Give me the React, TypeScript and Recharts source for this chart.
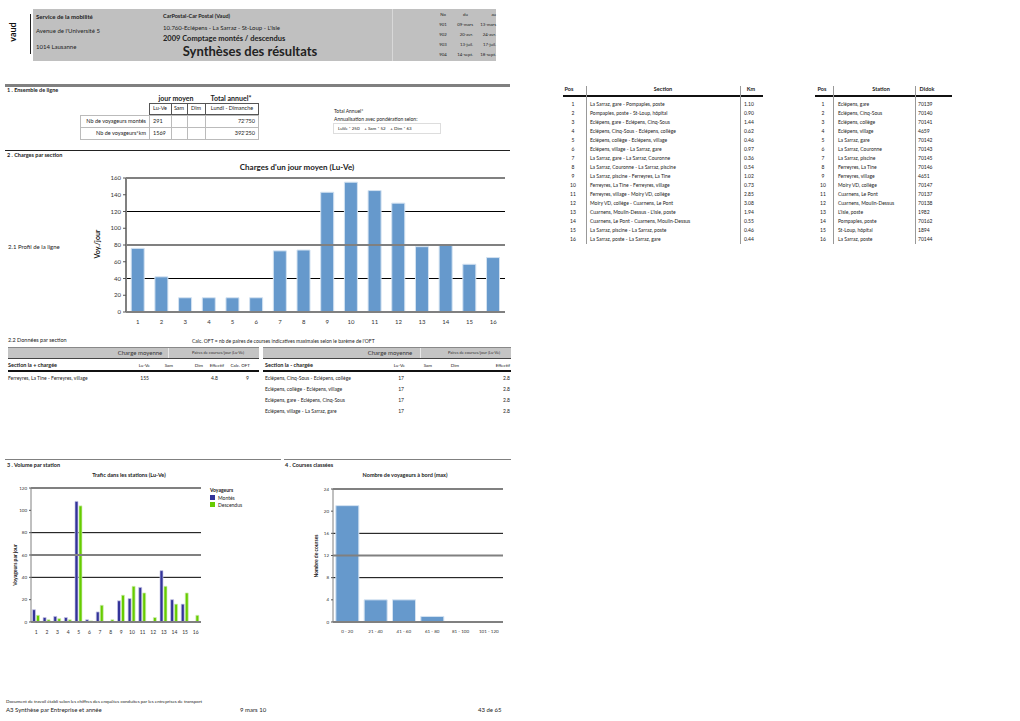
import React from 'react';
import { BarChart, Bar, XAxis, YAxis, CartesianGrid, ReferenceLine } from 'recharts';

const FONT = 'Lato, "Liberation Sans", sans-serif';

// 2. Charges par section
const sectionIds = ['1', '2', '3', '4', '5', '6', '7', '8', '9', '10', '11', '12', '13', '14', '15', '16'];
const chargeLuVe = [76, 42, 17, 17, 17, 17, 73, 74, 143, 155, 145, 130, 78, 80, 57, 65];
const chargeTicks = [0, 20, 40, 60, 80, 100, 120, 140, 160];

// 3. Volume par station
const stationIds = ['1', '2', '3', '4', '5', '6', '7', '8', '9', '10', '11', '12', '13', '14', '15', '16'];
const montes = [11, 4, 5, 4, 108, 2, 9, 0, 19, 21, 31, 0, 46, 20, 16, 0];
const descendus = [6, 2, 3, 2, 104, 1, 15, 2, 24, 32, 26, 4, 32, 16, 26, 6];
const trafficTicks = [0, 20, 40, 60, 80, 100, 120];

// 4. Courses classées
const classes = ['0 - 20', '21 - 40', '41 - 60', '61 - 80', '81 - 100', '101 - 120'];
const courses = [21, 4, 4, 1, 0, 0];
const coursesTicks = [0, 4, 8, 12, 16, 20, 24];

const sectionNames = [
  'La Sarraz, gare - Pompaples, poste',
  'Pompaples, poste - St-Loup, hôpital',
  'Eclépens, gare - Eclépens, Cinq-Sous',
  'Eclépens, Cinq-Sous - Eclépens, collège',
  'Eclépens, collège - Eclépens, village',
  'Eclépens, village - La Sarraz, gare',
  'La Sarraz, gare - La Sarraz, Couronne',
  'La Sarraz, Couronne - La Sarraz, piscine',
  'La Sarraz, piscine - Ferreyres, La Tine',
  'Ferreyres, La Tine - Ferreyres, village',
  'Ferreyres, village - Moiry VD, collège',
  'Moiry VD, collège - Cuarnens, Le Pont',
  'Cuarnens, Moulin-Dessus - L\'Isle, poste',
  'Cuarnens, Le Pont - Cuarnens, Moulin-Dessus',
  'La Sarraz, piscine - La Sarraz, poste',
  'La Sarraz, poste - La Sarraz, gare',
];
const sectionKm = ['1.10', '0.90', '1.44', '0.62', '0.46', '0.97', '0.36', '0.54', '1.02', '0.73', '2.85', '3.08', '1.94', '0.55', '0.46', '0.44'];

const stationNames = [
  'Eclépens, gare', 'Eclépens, Cinq-Sous', 'Eclépens, collège', 'Eclépens, village',
  'La Sarraz, gare', 'La Sarraz, Couronne', 'La Sarraz, piscine', 'Ferreyres, La Tine',
  'Ferreyres, village', 'Moiry VD, collège', 'Cuarnens, Le Pont', 'Cuarnens, Moulin-Dessus',
  'L\'Isle, poste', 'Pompaples, poste', 'St-Loup, hôpital', 'La Sarraz, poste',
];
const stationDidok = ['70139', '70140', '70141', '4659', '70142', '70143', '70145', '70146', '4651', '70147', '70137', '70138', '1982', '70162', '1894', '70144'];

const periodes = [
  ['No', 'du', 'au'],
  ['901', '09-mars', '13-mars'],
  ['902', '20-avr.', '24-avr.'],
  ['903', '13-juil.', '17-juil.'],
  ['904', '14-sept.', '18-sept.'],
];

const moinsCharges = [
  'Eclépens, Cinq-Sous - Eclépens, collège',
  'Eclépens, collège - Eclépens, village',
  'Eclépens, gare - Eclépens, Cinq-Sous',
  'Eclépens, village - La Sarraz, gare',
];
const moinsChargesLuVe = [17, 17, 17, 17];
const moinsChargesEff = ['2.8', '2.8', '2.8', '2.8'];

const chargeData = sectionIds.map((id, i) => ({ id, v: chargeLuVe[i] }));
const trafficData = stationIds.map((id, i) => ({ id, m: montes[i], d: descendus[i] }));
const coursesData = classes.map((c, i) => ({ c, v: courses[i] }));

type TProps = { x: number; y: number; s?: number; b?: boolean; a?: 'l' | 'c' | 'r'; c?: string; children: React.ReactNode };

function T({ x, y, s = 6, b = false, a = 'l', c = '#222', children }: TProps) {
  const tx = a === 'c' ? '-50%' : a === 'r' ? '-100%' : '0';
  return (
    <div style={{
      position: 'absolute', left: x, top: y, transform: `translate(${tx},-50%)`,
      fontSize: s, fontWeight: b ? 700 : 400, color: c, whiteSpace: 'nowrap', lineHeight: 1,
    }}>{children}</div>
  );
}

function VT({ x, y, s = 6, children }: { x: number; y: number; s?: number; children: React.ReactNode }) {
  return (
    <div style={{
      position: 'absolute', left: x, top: y, transform: 'translate(-50%,-50%) rotate(-90deg)',
      fontSize: s, fontWeight: 700, color: '#111', whiteSpace: 'nowrap', lineHeight: 1,
    }}>{children}</div>
  );
}

function Box({ x, y, w, h, bg, border }: { x: number; y: number; w: number; h: number; bg?: string; border?: string }) {
  return <div style={{ position: 'absolute', left: x, top: y, width: w, height: h, background: bg, border, boxSizing: 'border-box' }} />;
}

const tick = (s: number) => ({ fontSize: s, fill: '#333', fontFamily: FONT });

export default function App() {
  const rowY = (i: number) => 103.5 + i * 9.03;
  return (
    <div style={{ position: 'absolute', left: 0, top: 0, width: 1020, height: 721, background: '#fff', fontFamily: FONT, overflow: 'hidden' }}>
      {/* header */}
      <VT x={12} y={32} s={9}>vaud</VT>
      <Box x={30} y={14} w={1} h={40} bg="#222" />
      <Box x={33} y={9} w={463} h={52} bg="#c0c0c0" />
      <Box x={392} y={9} w={1} h={52} bg="#d8d8d8" />
      <T x={36} y={17} s={6} b>Service de la mobilité</T>
      <T x={36} y={31} s={6}>Avenue de l'Université 5</T>
      <T x={36} y={47} s={6}>1014 Lausanne</T>
      <T x={163} y={17} s={5.5} b>CarPostal-Car Postal (Vaud)</T>
      <T x={163} y={28} s={6}>10.760-Eclépens - La Sarraz - St-Loup - L'Isle</T>
      <T x={163} y={39} s={7.5} b>2009 Comptage montés / descendus</T>
      <T x={250} y={51} s={13} b a="c">Synthèses des résultats</T>
      {periodes.map((r, i) => (
        <React.Fragment key={i}>
          <T x={443} y={15 + i * 10} s={4.3} a="c">{r[0]}</T>
          <T x={473} y={15 + i * 10} s={4.3} a={i === 0 ? 'c' : 'r'}>{i === 0 ? <span style={{ marginLeft: -10 }}>{r[1]}</span> : r[1]}</T>
          <T x={496} y={15 + i * 10} s={4.3} a="r">{r[2]}</T>
        </React.Fragment>
      ))}

      {/* 1. Ensemble de ligne */}
      <Box x={5} y={84} w={505} h={3} bg="#808080" />
      <T x={7} y={91} s={5.5} b>1 . Ensemble de ligne</T>
      <T x={176} y={98} s={7} b a="c">jour moyen</T>
      <T x={231} y={98} s={7} b a="c">Total annuel*</T>
      <Box x={149} y={103} w={23} h={12} border="1px solid #555" />
      <Box x={171} y={103} w={17} h={12} border="1px solid #555" />
      <Box x={187} y={103} w={19} h={12} border="1px solid #555" />
      <Box x={205} y={103} w={54} h={12} border="1px solid #555" />
      <T x={160} y={109} s={5.5} a="c">Lu-Ve</T>
      <T x={179} y={109} s={5.5} a="c">Sam</T>
      <T x={196} y={109} s={5.5} a="c">Dim</T>
      <T x={232} y={109} s={5.5} a="c">Lundi - Dimanche</T>
      {[0, 1].map((r) => (
        <React.Fragment key={r}>
          <Box x={80} y={115 + r * 12} w={70} h={13} border="1px solid #bbb" />
          <Box x={149} y={115 + r * 12} w={23} h={13} border="1px solid #bbb" />
          <Box x={171} y={115 + r * 12} w={17} h={13} border="1px solid #bbb" />
          <Box x={187} y={115 + r * 12} w={19} h={13} border="1px solid #bbb" />
          <Box x={205} y={115 + r * 12} w={54} h={13} border="1px solid #bbb" />
        </React.Fragment>
      ))}
      <T x={146} y={121.5} s={5.5} a="r">Nb de voyageurs montés</T>
      <T x={153} y={121.5} s={5.5}>291</T>
      <T x={255} y={121.5} s={5.5} a="r">72'750</T>
      <T x={146} y={133.5} s={5.5} a="r">Nb de voyageurs*km</T>
      <T x={153} y={133.5} s={5.5}>1569</T>
      <T x={255} y={133.5} s={5.5} a="r">392'250</T>
      <T x={334} y={111} s={5}>Total Annuel*</T>
      <T x={334} y={119} s={5}>Annualisation avec pondération selon:</T>
      <Box x={333} y={123} w={108} h={11} border="1px solid #ddd" />
      <T x={338} y={128.5} s={4.5}>LuVe * 250&nbsp;&nbsp;&nbsp;&nbsp;+ Sam * 52&nbsp;&nbsp;&nbsp;&nbsp;+ Dim * 63</T>

      {/* 2. Charges par section */}
      <Box x={5} y={150} w={505} h={1} bg="#222" />
      <T x={7} y={156} s={5.5} b>2 . Charges par section</T>
      <T x={8} y={247} s={6}>2.1 Profil de la ligne</T>
      <T x={297} y={167} s={8} b a="c">Charges d'un jour moyen (Lu-Ve)</T>
      <VT x={97} y={244} s={7}>Voy./jour</VT>
      <div style={{ position: 'absolute', left: 80, top: 160 }}>
        <BarChart width={430} height={175} data={chargeData} margin={{ top: 18, right: 5, left: 0, bottom: 3 }}
          barCategoryGap="22%">
          <CartesianGrid horizontal vertical={false} stroke="#000" strokeWidth={1} />
          <ReferenceLine y={80} stroke="#808080" strokeWidth={2} />
          <ReferenceLine y={160} stroke="#808080" strokeWidth={2} />
          <XAxis dataKey="id" height={20} tick={tick(6)} tickLine={false} axisLine={{ stroke: '#808080', strokeWidth: 2 }} interval={0} />
          <YAxis width={46} domain={[0, 160]} ticks={chargeTicks} tick={tick(6)} tickSize={3}
            tickLine={{ stroke: '#555' }} axisLine={{ stroke: '#808080', strokeWidth: 2 }} />
          <Bar dataKey="v" fill="#6699cc" stroke="#d3e2f1" strokeWidth={1} isAnimationActive={false} />
        </BarChart>
      </div>

      {/* tables sections / stations */}
      <T x={569} y={90} s={5.5} b a="c">Pos</T>
      <T x={663} y={90} s={5.5} b a="c">Section</T>
      <T x={751} y={90} s={5.5} b a="c">Km</T>
      <Box x={563} y={95} w={200} h={2} bg="#111" />
      <Box x={586} y={86} w={1} h={158} bg="#999" />
      <Box x={740} y={86} w={1} h={158} bg="#999" />
      {sectionNames.map((n, i) => (
        <React.Fragment key={n + i}>
          <T x={573} y={rowY(i)} s={5} a="c">{sectionIds[i]}</T>
          <T x={590} y={rowY(i)} s={5}>{n}</T>
          <T x={744} y={rowY(i)} s={5}>{sectionKm[i]}</T>
        </React.Fragment>
      ))}
      <T x={822} y={90} s={5.5} b a="c">Pos</T>
      <T x={881} y={90} s={5.5} b a="c">Station</T>
      <T x={927} y={90} s={5.5} b a="c">Didok</T>
      <Box x={815} y={95} w={137} h={2} bg="#111" />
      <Box x={833} y={86} w={1} h={158} bg="#999" />
      <Box x={915} y={86} w={1} h={158} bg="#999" />
      {stationNames.map((n, i) => (
        <React.Fragment key={n + i}>
          <T x={823} y={rowY(i)} s={5} a="c">{stationIds[i]}</T>
          <T x={838} y={rowY(i)} s={5}>{n}</T>
          <T x={918} y={rowY(i)} s={5}>{stationDidok[i]}</T>
        </React.Fragment>
      ))}

      {/* 2.2 Données par section */}
      <T x={8} y={341} s={5.5}>2.2 Données par section</T>
      <T x={192} y={341} s={5}>Calc. OFT = nb de paires de courses indicatives maximales selon le barème de l'OFT</T>
      <Box x={8} y={348} w={251} h={10} bg="#c4c4c4" />
      <Box x={8} y={347} w={251} h={1} bg="#888" />
      <Box x={168} y={348} w={1} h={10} bg="#e8e8e8" />
      <T x={140} y={353} s={6} a="c" c="#333">Charge moyenne</T>
      <T x={218} y={353} s={4} a="c" c="#333">Paires de courses/jour (Lu-Ve)</T>
      <Box x={8} y={358} w={251} h={1} bg="#444" />
      <T x={8} y={366} s={5.5} b>Section la + chargée</T>
      <T x={150} y={366} s={4.5} a="r">Lu-Ve</T>
      <T x={173} y={366} s={4.5} a="r">Sam</T>
      <T x={203} y={366} s={4.5} a="r">Dim</T>
      <T x={224} y={366} s={4.5} a="r">Effectif</T>
      <T x={250} y={366} s={4.5} a="r">Calc. OFT</T>
      <Box x={8} y={370} w={251} h={2} bg="#111" />
      <T x={8} y={378} s={5}>Ferreyres, La Tine - Ferreyres, village</T>
      <T x={149} y={378} s={5} a="r">155</T>
      <T x={218} y={378} s={5} a="r">4.8</T>
      <T x={249} y={378} s={5} a="r">9</T>

      <Box x={263} y={348} w={248} h={10} bg="#c4c4c4" />
      <Box x={263} y={347} w={248} h={1} bg="#888" />
      <Box x={420} y={348} w={1} h={10} bg="#e8e8e8" />
      <T x={390} y={353} s={6} a="c" c="#333">Charge moyenne</T>
      <T x={474} y={353} s={4} a="c" c="#333">Paires de courses/jour (Lu-Ve)</T>
      <Box x={263} y={358} w={248} h={1} bg="#444" />
      <T x={265} y={366} s={5.5} b>Section la - chargée</T>
      <T x={405} y={366} s={4.5} a="r">Lu-Ve</T>
      <T x={432} y={366} s={4.5} a="r">Sam</T>
      <T x={459} y={366} s={4.5} a="r">Dim</T>
      <T x={510} y={366} s={4.5} a="r">Effectif</T>
      <Box x={263} y={370} w={248} h={2} bg="#111" />
      {moinsCharges.map((n, i) => (
        <React.Fragment key={n}>
          <T x={265} y={378 + i * 11} s={5}>{n}</T>
          <T x={404} y={378 + i * 11} s={5} a="r">{moinsChargesLuVe[i]}</T>
          <T x={510} y={378 + i * 11} s={5} a="r">{moinsChargesEff[i]}</T>
        </React.Fragment>
      ))}

      {/* 3. Volume par station */}
      <Box x={5} y={459} w={276} h={1} bg="#808080" />
      <T x={7} y={466} s={5.5} b>3 . Volume par station</T>
      <T x={129} y={476} s={5.5} b a="c">Trafic dans les stations (Lu-Ve)</T>
      <VT x={15} y={565} s={5}>Voyageurs par jour</VT>
      <div style={{ position: 'absolute', left: 0, top: 480 }}>
        <BarChart width={280} height={156} data={trafficData} margin={{ top: 8, right: 79, left: 0, bottom: 0 }}
          barCategoryGap="14%" barGap={1}>
          <CartesianGrid horizontal vertical={false} stroke="#000" strokeWidth={1} />
          <ReferenceLine y={60} stroke="#808080" strokeWidth={2} />
          <ReferenceLine y={120} stroke="#808080" strokeWidth={2} />
          <XAxis dataKey="id" height={14} tick={tick(5)} tickLine={false} axisLine={{ stroke: '#808080', strokeWidth: 2 }} interval={0} />
          <YAxis width={31} domain={[0, 120]} ticks={trafficTicks} tick={tick(4.5)} tickSize={2}
            tickLine={{ stroke: '#555' }} axisLine={{ stroke: '#808080', strokeWidth: 1 }} />
          <Bar dataKey="m" fill="#333399" stroke="#c8c8e6" strokeWidth={0.7} isAnimationActive={false} />
          <Bar dataKey="d" fill="#66cc00" stroke="#d2eeb8" strokeWidth={0.7} isAnimationActive={false} />
        </BarChart>
      </div>
      <T x={210} y={490} s={5} b>Voyageurs</T>
      <Box x={210} y={495} w={5} h={5} bg="#333399" />
      <T x={218} y={497.5} s={5}>Montés</T>
      <Box x={210} y={502} w={5} h={5} bg="#66cc00" />
      <T x={218} y={504.5} s={5}>Descendus</T>

      {/* 4. Courses classées */}
      <Box x={284} y={459} w={227} h={1} bg="#808080" />
      <T x={285} y={466} s={5.5} b>4 . Courses classées</T>
      <T x={405} y={476} s={5.5} b a="c">Nombre de voyageurs à bord (max)</T>
      <VT x={316} y={556} s={5}>Nombre de courses</VT>
      <div style={{ position: 'absolute', left: 280, top: 480 }}>
        <BarChart width={240} height={156} data={coursesData} margin={{ top: 9, right: 17, left: 0, bottom: 0 }}
          barCategoryGap="10%">
          <CartesianGrid horizontal vertical={false} stroke="#000" strokeWidth={1} />
          <ReferenceLine y={12} stroke="#808080" strokeWidth={2} />
          <ReferenceLine y={24} stroke="#808080" strokeWidth={2} />
          <XAxis dataKey="c" height={14} tick={tick(4.5)} tickLine={false} axisLine={{ stroke: '#808080', strokeWidth: 2 }} interval={0} />
          <YAxis width={53} domain={[0, 24]} ticks={coursesTicks} tick={tick(4.5)} tickSize={2}
            tickLine={{ stroke: '#555' }} axisLine={{ stroke: '#808080', strokeWidth: 1 }} />
          <Bar dataKey="v" fill="#6699cc" stroke="#d3e2f1" strokeWidth={1} isAnimationActive={false} />
        </BarChart>
      </div>

      {/* footer */}
      <T x={6} y={702} s={4.5}>Document de travail établi selon les chiffres des enquêtes conduites par les entreprises de transport</T>
      <T x={6} y={710} s={6}>A3 Synthèse par Entreprise et année</T>
      <T x={240} y={710} s={6}>9 mars 10</T>
      <T x={478} y={710} s={6}>43 de 65</T>
    </div>
  );
}
